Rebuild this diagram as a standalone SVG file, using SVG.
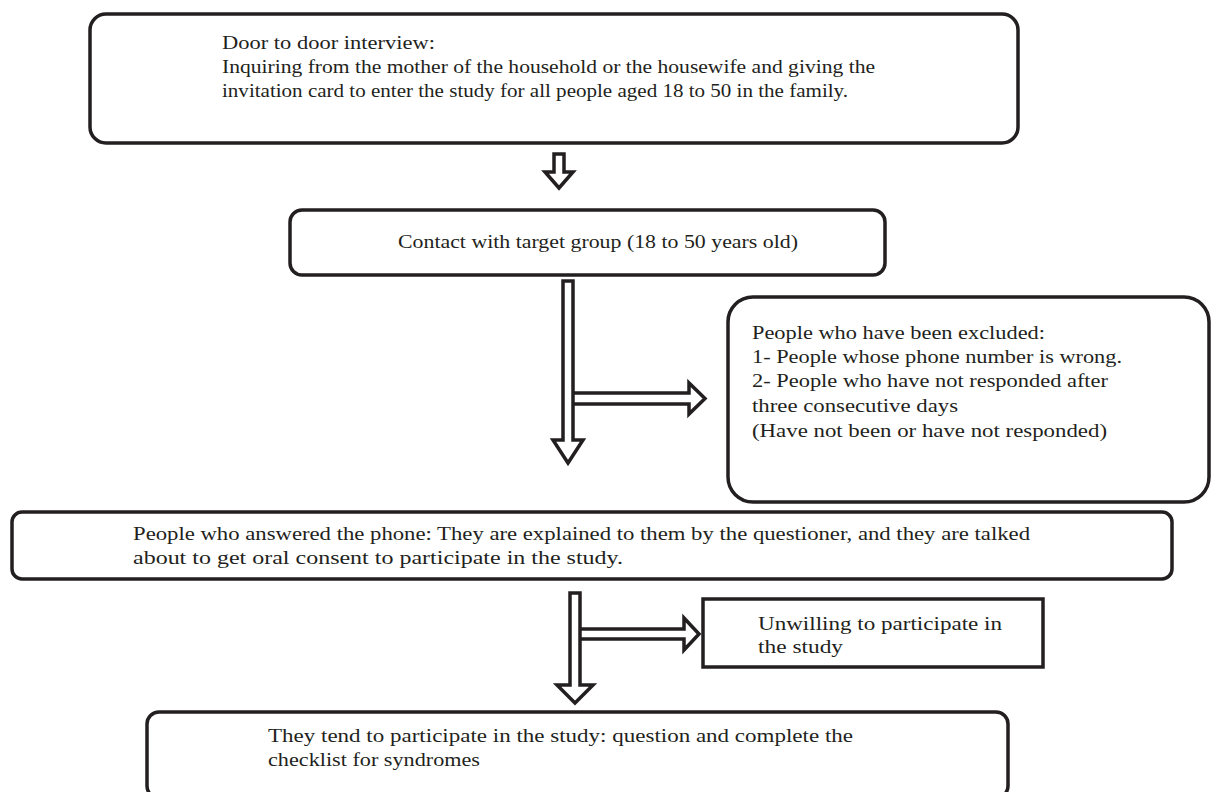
<svg xmlns="http://www.w3.org/2000/svg" width="1211" height="792" viewBox="0 0 1211 792">
<style>
.box{fill:#fff;stroke:#231f20;stroke-width:3.5}
.arr{fill:#fff;stroke:#231f20;stroke-width:3.5;stroke-linejoin:miter}
text{font-family:"Liberation Serif","Times New Roman",serif;font-size:19px;fill:#231f20}
</style>
<rect width="1211" height="792" fill="#fff"/>
<g id="connectors">
<path class="arr" d="M554,154 H564 V172 H573 L559,188 L545,172 H554 Z"/>
<path class="arr" d="M573,393 H689 V383 L705,398.5 L689,414 V404 H573"/>
<path class="arr" d="M563,281 H573 V440 H583 L568,463 L553,440 H563 Z"/>
<path class="arr" d="M580,629 H684 V618 L699,634 L684,650 V639 H580"/>
<path class="arr" d="M570,593 H580 V685 H593 L575,703 L557,685 H570 Z"/>
</g>
<g id="node1">
<rect class="box" x="90" y="14" width="928" height="129" rx="16"/>
<text x="222" y="49" textLength="213" lengthAdjust="spacingAndGlyphs">Door to door interview:</text>
<text x="222" y="73" textLength="653" lengthAdjust="spacingAndGlyphs">Inquiring from the mother of the household or the housewife and giving the</text>
<text x="222" y="97" textLength="626" lengthAdjust="spacingAndGlyphs">invitation card to enter the study for all people aged 18 to 50 in the family.</text>
</g>
<g id="node2">
<rect class="box" x="290" y="210" width="595" height="65" rx="12"/>
<text x="398" y="248" textLength="400" lengthAdjust="spacingAndGlyphs">Contact with target group (18 to 50 years old)</text>
</g>
<g id="node3">
<rect class="box" x="728" y="297" width="481" height="205" rx="25"/>
<text x="752" y="339" textLength="293" lengthAdjust="spacingAndGlyphs">People who have been excluded:</text>
<text x="752" y="363" textLength="370" lengthAdjust="spacingAndGlyphs">1- People whose phone number is wrong.</text>
<text x="752" y="387" textLength="356" lengthAdjust="spacingAndGlyphs">2- People who have not responded after</text>
<text x="752" y="412" textLength="206" lengthAdjust="spacingAndGlyphs">three consecutive days</text>
<text x="752" y="437" textLength="355" lengthAdjust="spacingAndGlyphs">(Have not been or have not responded)</text>
</g>
<g id="node4">
<rect class="box" x="12" y="512" width="1160" height="67" rx="10"/>
<text x="133" y="540" textLength="897" lengthAdjust="spacingAndGlyphs">People who answered the phone: They are explained to them by the questioner, and they are talked</text>
<text x="133" y="564" textLength="490" lengthAdjust="spacingAndGlyphs">about to get oral consent to participate in the study.</text>
</g>
<g id="node5">
<rect class="box" x="703" y="599" width="340" height="68"/>
<text x="758" y="630" textLength="244" lengthAdjust="spacingAndGlyphs">Unwilling to participate in</text>
<text x="758" y="653" textLength="85" lengthAdjust="spacingAndGlyphs">the study</text>
</g>
<g id="node6">
<rect class="box" x="147" y="712" width="861" height="86" rx="12"/>
<text x="268" y="742" textLength="585" lengthAdjust="spacingAndGlyphs">They tend to participate in the study: question and complete the</text>
<text x="268" y="766" textLength="212" lengthAdjust="spacingAndGlyphs">checklist for syndromes</text>
</g>
</svg>
